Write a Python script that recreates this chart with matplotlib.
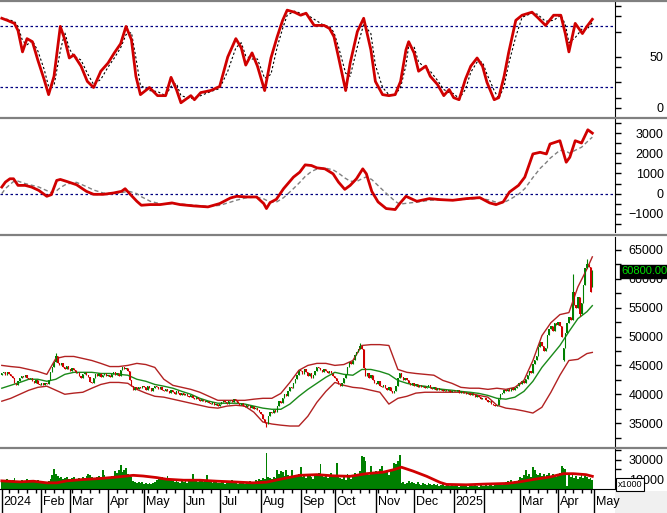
import numpy as np
import pandas as pd
import matplotlib
matplotlib.use("Agg")
import matplotlib.pyplot as plt
from matplotlib.lines import Line2D
from matplotlib.patches import Rectangle

plt.rcParams["font.family"] = ["Liberation Sans", "DejaVu Sans"]

# HOSE trading calendar, Jan 2024 - Apr 2025
HOLIDAYS = ["2024-02-08", "2024-02-09", "2024-02-12", "2024-02-13", "2024-02-14",
            "2024-04-18", "2024-04-30", "2024-05-01", "2024-09-02", "2024-09-03",
            "2025-01-01", "2025-01-27", "2025-01-28", "2025-01-29", "2025-01-30",
            "2025-01-31", "2025-04-07"]
dates = pd.bdate_range("2024-01-02", "2025-04-29")
dates = dates[~dates.isin(pd.to_datetime(HOLIDAYS))]

# daily close, thousand VND
closes = [
    43.6, 43.9, 43.3, 43.8, 43.5, 43.2, 42.8, 42.0, 41.6, 42.3, 42.8, 43.2, 43.0, 43.4, 42.9,
    42.6, 42.8, 42.3, 42.0, 42.4, 41.8, 41.6,
    41.9, 41.6, 42.0, 41.8, 42.4, 43.9, 44.8, 45.6, 46.6, 45.4, 45.0, 45.4, 44.7, 44.3, 44.9, 44.4,
    44.0, 44.5, 44.2, 43.7, 43.9, 43.2, 42.9, 43.5, 43.8, 43.4, 43.0, 42.2, 42.0, 42.8, 43.5,
    43.2, 43.6, 43.0, 43.4, 43.7, 43.2,
    43.4, 43.0, 43.5, 43.8, 43.3, 43.6, 43.2, 44.2, 44.8, 44.3, 44.6, 44.0, 42.5, 41.5, 40.8,
    41.2, 40.9, 41.3, 41.0, 41.4,
    41.2, 40.8, 41.4, 41.0, 40.6, 41.1, 41.5, 41.2, 40.9, 41.3, 40.8, 40.5, 40.9, 40.6, 40.3,
    40.7, 40.4, 40.1, 40.5, 40.2, 39.9, 40.2,
    39.9, 40.1, 39.7, 39.5, 39.8, 39.4, 39.2, 39.5, 39.1, 38.9, 39.2, 38.8, 38.6, 38.9, 38.5,
    38.3, 38.6, 38.2, 38.4, 38.0,
    38.3, 38.6, 38.9, 38.7, 38.4, 38.8, 39.0, 38.7, 39.1, 38.8, 38.5, 38.2, 38.5, 38.0, 37.8,
    38.1, 37.9, 37.6, 37.9, 37.5, 37.7, 37.2, 37.0,
    36.6, 35.8, 35.0, 34.8, 36.2, 37.0, 36.8, 37.3, 36.9, 38.0, 38.8, 38.5, 39.3, 40.0, 39.7,
    40.6, 41.3, 41.0, 42.0, 42.7, 43.3, 44.2,
    44.0, 43.5, 44.3, 43.8, 43.2, 43.6, 42.9, 43.3, 44.0, 44.8, 44.5, 44.2, 43.8, 44.3, 44.0,
    43.6, 44.1, 43.7, 43.2,
    42.8, 42.3, 41.8, 41.5, 42.0, 42.8, 43.5, 44.8, 45.6, 45.2, 45.9, 46.8, 47.3, 47.9, 48.4,
    47.8, 44.5, 43.2, 43.6, 42.9, 43.3, 42.5, 42.0,
    41.8, 42.3, 41.5, 41.2, 41.6, 41.0, 40.8, 41.2, 40.5, 40.2, 40.6, 41.5, 42.8, 43.6, 43.0,
    42.5, 42.9, 42.4, 42.0, 41.6, 41.9,
    41.5, 41.8, 41.3, 41.6, 41.2, 41.4, 41.0, 41.3, 41.6, 41.1, 40.9, 41.2, 40.8, 41.0, 40.7,
    40.9, 40.6, 40.8, 40.5, 40.7, 40.4, 40.6,
    40.8, 40.5, 40.7, 40.3, 40.6, 40.2, 40.4, 40.1, 40.3, 39.9, 40.2, 39.8, 39.6, 39.9, 39.5,
    39.2, 39.4,
    39.3, 39.0, 38.7, 38.9, 38.4, 38.1, 37.9, 38.2, 39.2, 40.0, 40.3, 40.8, 40.5, 40.9, 40.6,
    41.0, 40.8, 41.1, 41.5, 41.9,
    41.8, 42.3, 41.9, 42.6, 43.4, 44.0, 43.6, 45.2, 46.0, 46.6, 48.2, 49.0, 48.3, 47.5, 48.0,
    50.2, 51.3, 51.8, 51.0, 52.3, 52.0,
    52.6, 51.9, 50.0, 48.0, 50.6, 52.4, 53.3, 52.8, 57.8, 55.5, 55.0, 56.8, 53.9, 55.8, 59.0,
    61.8, 62.6, 62.0, 57.8, 60.8,
]
# opens that differ from the previous close, and wick extremes
open_gaps = {0: 43.3, 312: 46.0, 317: 52.8, 328: 58.6}
highs = {30: 47.1, 199: 48.8, 317: 60.8, 325: 63.4, 328: 61.5}
lows = {147: 34.3, 312: 45.7, 321: 53.6}

# daily volume, axis units x1000 (in thousands)
volumes = [
    8, 9, 7.5, 10, 8, 7, 9.5, 11, 8.5, 7, 8, 9, 7.5, 8, 10, 7, 8.5, 9, 7.5, 8, 9, 7,
    6, 6.5, 7, 6, 8, 10, 14, 21, 15, 13, 11, 12.5, 10, 11, 12, 10.5,
    10, 11, 12, 9.5, 10.5, 11, 9, 12, 11, 13, 15.5, 14, 12, 11, 10.5, 12, 13, 12, 19, 14, 12,
    12, 11, 13, 12, 18, 16, 19, 25, 17, 19, 22, 15, 14, 12, 8, 7, 6.5, 7.5, 6, 7,
    5.5, 6, 5, 6.5, 5.5, 6, 7, 9, 11, 10, 12, 9.5, 11, 13, 10, 9, 8, 7, 8.5, 7, 6.5, 8,
    7, 8, 6.5, 9, 8, 15.5, 9, 8, 7, 10, 8.5, 7, 9, 14.5, 8, 7, 6.5, 8, 7, 6,
    6, 7, 8.5, 5.5, 7, 8, 6, 9, 7.5, 6, 5, 7, 8, 6.5, 5.5, 7, 6, 8, 6.5, 7, 9, 8, 10,
    9, 11, 10, 37, 12, 11, 10, 12, 11, 19, 15, 18, 17, 13, 19, 14, 12, 19, 13, 14, 12, 15,
    23, 12, 14, 11, 13, 15, 12, 10, 14, 13, 16, 26, 14, 12, 15, 11, 13, 16, 12,
    14, 27, 12, 11, 10, 13, 9, 15, 12, 10, 14, 16, 13, 15, 18, 34, 33, 29, 16, 14, 24, 17, 15,
    18, 15, 20, 24, 17, 16, 19, 14, 18, 21, 27, 26, 29, 35, 6, 7, 5.5, 6.5, 8, 6, 7,
    6, 5, 7, 5.5, 4.5, 6, 5, 4, 6.5, 5, 4.5, 5.5, 4, 5, 3.5, 4.5, 5, 3, 4, 4.5, 3.5, 4,
    3, 4, 3.5, 2.5, 4.5, 3, 5, 3.5, 2.5, 4, 3, 3.5, 4.5, 3, 2.5, 4, 3.5,
    3, 4.5, 3.5, 5, 4, 3, 5.5, 4, 6, 5, 4.5, 5.5, 7, 8, 6.5, 9, 7, 8.5, 6, 9,
    12, 11, 14, 19, 13, 15, 12, 23, 19, 15, 14, 16, 13, 15, 12, 14, 16, 13, 15, 14, 12,
    14, 16, 24, 22, 20, 3, 15, 12, 14, 11, 13, 10, 12, 14, 11, 13, 12, 10, 11, 9,
]
vol_ma_day = [0, 10, 17.5, 25, 30.5, 36, 45, 54.5, 64, 73, 78.5, 86, 91.5, 101, 110, 119.5,
              128.5, 139.5, 147, 156.5, 165.5, 175, 184, 193.5, 202.5, 212, 217.5, 222, 228.5,
              236, 243.5, 247, 258, 267.5, 280.5, 287.5, 295, 304.5, 312, 317.5, 324.5, 328]
vol_ma = [8.3, 7.3, 8.0, 6.3, 6.3, 8.3, 9.7, 10.7, 12.3, 14.0, 13.3, 11.7, 10.0, 9.0, 9.0, 8.0,
          7.3, 6.3, 7.0, 10.7, 14.0, 14.7, 13.5, 13.0, 15.7, 17.3, 19.7, 22.3, 18.3,
          13.0, 6.7, 4.7, 4.3, 5.0, 5.7, 7.3, 9.7, 12.3, 15.7, 15.7, 14.7, 13.0]

# Bollinger bands, read every 5 sessions
band_days = list(range(0, 330, 5)) + [328]
bb_upper = [45000, 44800, 44650, 44300, 43950, 43450, 46200, 46550, 46550, 46200,
            45850, 45350, 44800, 44800, 45000, 45350, 45150, 44650, 42600, 41550,
            41200, 40850, 40350, 39650, 38950, 38950, 38950, 38950, 39150, 39300,
            39300, 40150, 42050, 44150, 45000, 45350, 45350, 45000, 45150, 45850,
            48450, 48600, 48600, 48450, 44300, 43800, 43600, 43450, 43300, 42400,
            41900, 41200, 41050, 41050, 40850, 41050, 40850, 41200, 42400, 45850,
            50150, 52400, 53800, 54150, 58600, 61700, 63800]
bb_mid = [41050, 41550, 42050, 42600, 42600, 42250, 42600, 43450, 43800, 43800,
          43800, 43600, 43600, 43450, 43300, 42600, 42250, 41700, 41400, 41050,
          40500, 40000, 39300, 38800, 38450, 38450, 38450, 38300, 37950, 37600,
          37400, 37400, 38300, 39650, 40850, 41900, 42950, 43800, 43450, 43300,
          44300, 44300, 43950, 43450, 42400, 41900, 41550, 41400, 41050, 40850,
          40700, 40500, 40350, 40150, 39800, 39300, 39150, 39500, 40500, 42250,
          44650, 46550, 48450, 50850, 53100, 54300, 55350]
bb_lower = [38800, 39300, 40000, 40700, 41200, 41400, 40700, 40000, 40200, 40350,
            41050, 41700, 42050, 42050, 41900, 40850, 40200, 39650, 39500, 39150,
            38800, 38450, 38100, 37750, 37600, 37950, 38100, 37950, 36900, 35200,
            34850, 34650, 34500, 34500, 36200, 38600, 40500, 42050, 41550, 41200,
            41050, 40700, 40350, 38300, 39300, 39650, 40200, 40350, 40350, 40350,
            40350, 40350, 40200, 39800, 39500, 38100, 37600, 37400, 37100, 36750,
            37750, 40350, 43300, 45850, 46050, 47050, 47250]

# MACD and signal
macd_day = [0, 2, 4.5, 6.5, 9, 13, 16.5, 20.5, 25, 27.5, 30.5, 32.5, 36, 41.5, 47, 51, 56.5,
            62, 66.5, 68.5, 71, 75, 77.5, 82.5, 88, 94.5, 99, 106.5, 114.5, 121, 127, 130.5,
            136, 141.5, 145.5, 147, 149, 152.5, 156.5, 162, 165.5, 168.5, 172, 175, 179.5,
            184, 187, 190.5, 193.5, 197, 200.5, 202.5, 205.5, 209, 213.5, 218.5, 221, 224.5,
            230.5, 237.5, 243.5, 250.5, 258, 265.5, 271, 274.5, 278.5, 282, 287, 290.5, 295,
            299, 302.5, 304.5, 310, 313.5, 315.5, 318.5, 322, 325.5, 328]
macd = [328, 574, 738, 738, 410, 410, 328, 164, -131, -49, 656, 705, 607, 443, 115, -33, -33,
        33, 115, 246, 0, -377, -574, -541, -541, -459, -541, -607, -656, -492, -213, -131,
        -164, -164, -492, -738, -443, -279, 246, 820, 1066, 1427, 1394, 1279, 1230, 984,
        574, 213, 410, 738, 1230, 984, 115, -410, -738, -787, -492, -131, -377, -246,
        -295, -328, -246, -197, -459, -541, -410, 82, 410, 820, 1968, 2050, 1968, 2460,
        2624, 1558, 1804, 2624, 2509, 3165, 3001]
signal = [0, 250, 450, 600, 620, 500, 420, 330, 150, 50, 150, 300, 480, 560, 350, 180, 30,
          0, 50, 90, 110, 0, -150, -380, -500, -500, -510, -570, -630, -580, -420, -320,
          -200, -170, -260, -330, -420, -420, -200, 250, 560, 850, 1100, 1220, 1270, 1180,
          1020, 780, 620, 600, 760, 830, 700, 400, 20, -380, -520, -480, -420, -330,
          -300, -310, -280, -230, -320, -420, -450, -300, -30, 250, 800, 1250, 1550, 1750,
          2150, 2100, 2000, 2150, 2300, 2600, 2800]

# Stochastic %K / %D
stoch_day = [0, 3, 7, 9, 11.5, 14, 17, 20, 23.5, 26, 29, 32.5, 35, 37.5, 40, 44, 47.5, 51, 55,
             59, 62.5, 66, 69, 72, 74.5, 77, 82, 86.5, 91, 94, 97, 99.5, 105, 107, 110.5, 116,
             121, 125.5, 130, 133, 135.5, 139, 142, 146, 149.5, 153, 156, 158.5, 162.5, 166,
             169, 173.5, 179, 182, 184.5, 187, 191, 193.5, 197.5, 201, 205, 207.5, 211.5, 215,
             218.5, 221.5, 224.5, 226, 229, 231.5, 235.5, 238, 242, 245.5, 248.5, 251, 254,
             257.5, 260.5, 264, 267, 269.5, 273.5, 276, 279, 281.5, 285.5, 289, 294.5, 297.5,
             302, 306.5, 310.5, 313, 315, 318.5, 322.5, 325, 328]
stoch_k = [88, 86, 83, 76, 55, 68, 65, 47, 28, 13, 31, 80, 67, 49, 52, 41, 26, 20, 36, 44, 54,
           63, 80, 67, 31, 13, 20, 12, 12, 30, 18, 5, 12, 8, 15, 17, 21, 50, 68, 59, 42, 54,
           41, 17, 49, 70, 86, 96, 94, 91, 93, 81, 81, 78, 70, 50, 17, 44, 75, 88, 57, 26, 13,
           12, 13, 26, 57, 65, 54, 36, 41, 31, 23, 12, 18, 10, 8, 28, 41, 49, 41, 25, 8, 10,
           31, 54, 86, 91, 94, 89, 81, 91, 91, 73, 55, 83, 73, 80, 87]
stoch_d = [88, 87, 85, 80, 66, 62, 66, 56, 38, 21, 22, 56, 74, 58, 51, 47, 34, 23, 28, 40, 49,
           59, 72, 74, 49, 22, 17, 16, 12, 21, 24, 12, 9, 10, 12, 16, 19, 36, 59, 64, 51, 48,
           48, 29, 33, 60, 78, 91, 95, 93, 92, 87, 81, 80, 74, 60, 34, 31, 60, 82, 73, 42, 20,
           13, 13, 20, 42, 61, 60, 45, 39, 36, 27, 18, 15, 14, 9, 18, 35, 45, 45, 33, 17, 9,
           21, 43, 70, 89, 93, 92, 85, 86, 91, 82, 64, 69, 78, 77, 84]

month_names = {1: "Jan", 2: "Feb", 3: "Mar", 4: "Apr", 5: "May", 6: "Jun", 7: "Jul",
               8: "Aug", 9: "Sep", 10: "Oct", 11: "Nov", 12: "Dec"}

# ---- figure layout (pixel based) ----
W, H = 667, 513
XR = 615  # right edge of plotting area
fig = plt.figure(figsize=(W / 100, H / 100), dpi=100)


def panel(top, bottom):
    return fig.add_axes([0, 1 - bottom / H, XR / W, (bottom - top) / H])


ax1 = panel(2, 116)
ax2 = panel(119, 232)
ax3 = panel(237, 446)
ax4 = panel(448, 489)

RED = "#d00000"
GREEN = "#008000"
NAVY = "#000080"

for ax in (ax1, ax2, ax3, ax4):
    ax.set_xlim(-1, 340.6)
    ax.yaxis.tick_right()
    ax.tick_params(axis="y", which="major", direction="out", length=4, width=1,
                   labelsize=9, pad=31)
    ax.tick_params(axis="y", which="minor", direction="out", length=4, width=1)
    ax.tick_params(axis="x", which="both", bottom=False, labelbottom=False)
    for s in ("left", "top", "bottom"):
        ax.spines[s].set_visible(False)
    ax.spines["right"].set_color("black")

# ---- stochastic ----
ax1.axhline(80, color=NAVY, lw=0.9, ls=(0, (2, 2)))
ax1.axhline(20, color=NAVY, lw=0.9, ls=(0, (2, 2)))
ax1.plot(stoch_day, stoch_d, color="black", lw=0.8, ls=(0, (2, 2)))
ax1.plot(stoch_day, stoch_k, color=RED, lw=2)
ax1.set_ylim(-8, 104)
ax1.set_yticks([0, 50, 100], ["0", "50", ""])
ax1.set_yticks([10, 25, 40, 75, 90], minor=True)

# ---- MACD ----
ax2.axhline(0, color=NAVY, lw=0.9, ls=(0, (2, 2)))
ax2.plot(macd_day, signal, color="#808080", lw=1, ls=(0, (3, 2)))
ax2.plot(macd_day, macd, color=RED, lw=2)
ax2.set_ylim(-1900, 3700)
ax2.set_yticks([-1000, 0, 1000, 2000, 3000])
ax2.set_yticks([-1500, -500, 500, 1500, 2500, 3500], minor=True)

# ---- price with Bollinger bands ----
n = len(closes)
idx = np.arange(n)
c = np.array(closes) * 1000
o = np.r_[c[0], c[:-1]]
for k, v in open_gaps.items():
    o[k] = v * 1000
hi = np.maximum(o, c)
lo = np.minimum(o, c)
for k, v in highs.items():
    hi[k] = v * 1000
for k, v in lows.items():
    lo[k] = v * 1000
cols = np.where(c >= o, GREEN, RED)

ax3.plot(band_days, bb_upper, color="#b22222", lw=1)
ax3.plot(band_days, bb_lower, color="#b22222", lw=1)
ax3.plot(band_days, bb_mid, color="#1a8a1a", lw=1)
ax3.vlines(idx, lo, hi, colors=cols, lw=0.8)
ax3.bar(idx, np.maximum(np.abs(c - o), 80), bottom=np.minimum(o, c), width=0.7,
        color=cols, linewidth=0)
ax3.set_ylim(31040, 67240)
ax3.set_yticks(range(35000, 65001, 5000))
ax3.set_yticks(range(32500, 67500, 2500), minor=True)
ax3.annotate(f"{c[-1]:.2f}", xy=(1, c[-1]), xycoords=("axes fraction", "data"),
             xytext=(6, 3), textcoords="offset pixels", ha="left", va="center",
             fontsize=8, color="#00e000", annotation_clip=False,
             bbox=dict(boxstyle="square,pad=0.12", fc="black", ec="black"))

# ---- volume ----
ax4.bar(idx, np.array(volumes) * 1000, width=1.0, color=GREEN, linewidth=0)
ax4.plot(vol_ma_day, np.array(vol_ma) * 1000, color=RED, lw=2)
ax4.set_ylim(0, 42000)
ax4.set_yticks([10000, 30000])
ax4.set_yticks([20000, 40000], minor=True)
ax4.text(1.005, 0.0, "x1000", transform=ax4.transAxes, fontsize=6.5, ha="left",
         va="bottom", bbox=dict(boxstyle="square,pad=0.2", fc="white", ec="black", lw=0.8))

for ax in (ax1, ax2, ax3, ax4):
    for t in ax.get_yticklabels():
        t.set_horizontalalignment("right")

# ---- time axis ----
ax4.spines["bottom"].set_visible(True)
ax4.spines["bottom"].set_color("black")
month_start = [i for i in range(n) if i == 0 or dates[i].month != dates[i - 1].month]
month_lbl = []
for i in month_start:
    d = dates[i]
    month_lbl.append(str(d.year) if d.month == 1 else month_names[d.month])
month_start.append(n)
month_lbl.append("May")
week_start = [i for i in range(1, n) if dates[i].weekday() < dates[i - 1].weekday()]
ax4.set_xticks(month_start)
ax4.set_xticks(week_start, minor=True)
ax4.tick_params(axis="x", which="major", bottom=True, direction="out", length=17,
                width=1, color="black", labelbottom=False)
ax4.tick_params(axis="x", which="minor", bottom=True, direction="out", length=3,
                width=1, color="black")
for i, lbl in zip(month_start, month_lbl):
    if lbl == "Feb" and dates[min(i, n - 1)].year == 2025:
        continue
    ax4.annotate(lbl, xy=(i, 0), xycoords=("data", "axes fraction"), xytext=(2, -13),
                 textcoords="offset pixels", ha="left", va="center", fontsize=9,
                 annotation_clip=False)

# panel separators and corner
for y in (1, 117.5, 234.5, 447.5):
    fig.add_artist(Line2D([0, 1], [1 - y / H, 1 - y / H], transform=fig.transFigure,
                          color="#808080", lw=1.6))
fig.add_artist(Rectangle((XR / W, 0), 1 - XR / W, (H - 491) / H, transform=fig.transFigure,
                         fc="#f0f0f0", ec="none", zorder=-1))

fig.savefig("out.png", dpi=100)
